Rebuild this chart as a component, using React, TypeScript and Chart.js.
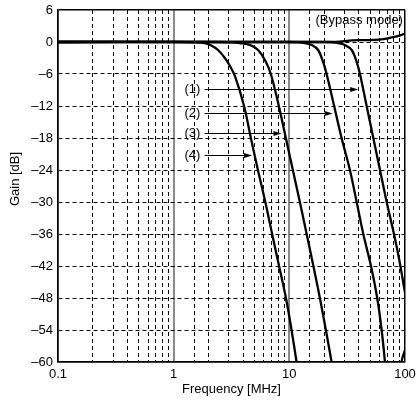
import React, { useEffect, useRef } from 'react';
import { Chart, registerables } from 'chart.js';

Chart.register(...registerables);

// ---- data ----
const yMin = -60;
const yMax = 6;
const yStep = 6;
const xMin = 0.1;
const xMax = 100;

// curve (4) – lowest cutoff
const freq4 = [0.1, 1.0, 1.5, 1.85, 2.1, 2.42, 2.77, 3.05, 3.4, 4.06, 4.65, 5.35, 6.2, 7.1, 8.15, 9.35, 10.45, 11.55];
const gain4 = [0, 0, -0.05, -0.2, -0.6, -1.5, -3.0, -4.4, -6.5, -12, -18, -24, -30, -36, -42, -48, -54, -60];

// curve (3)
const freq3 = [0.1, 2.0, 3.2, 3.73, 4.6, 5.37, 6.2, 6.92, 8.11, 9.33, 10.72, 12.33, 14.12, 16.14, 18.37, 20.7, 23.2];
const gain3 = [0, 0, -0.05, -0.2, -0.6, -1.5, -3.5, -6, -12, -18, -24, -30, -36, -42, -48, -54, -60];

// curve (2)
const freq2 = [0.1, 10, 12, 13.6, 15.8, 17.76, 19.5, 21.0, 24.4, 28.3, 33.4, 38.2, 43.6, 50.8, 57.5, 62.8, 67.1, 75, 88, 93.4, 100];
const gain2 = [0, 0, -0.05, -0.2, -0.6, -1.5, -3.6, -6, -12, -18, -24, -30, -36, -42, -48, -54, -60, -72, -72, -60, -57.7];

// curve (1) – highest cutoff
const freq1 = [0.1, 20, 24, 26.5, 30.5, 34.6, 38.3, 40.8, 46.6, 53.2, 60.8, 69.4, 80.3, 89.3, 100];
const gain1 = [0, 0, -0.05, -0.2, -0.6, -1.5, -3.8, -6, -12, -18, -24, -30, -36, -40.9, -47];

// bypass mode
const freqBypass = [0.1, 25, 35, 45, 60, 75, 90, 100];
const gainBypass = [0, 0, 0.3, 0.35, 0.45, 0.8, 1.2, 1.6];

// annotations
const arrowLabels = ['(1)', '(2)', '(3)', '(4)'];
const arrowGain = [-8.9, -13.3, -17.1, -21.1];
const arrowStartFreq = 1.85;
const arrowEndFreq = [39.4, 23.7, 8.56, 4.76];
const arrowLabelFreq = 1.70;
const bypassLabel = '(Bypass mode)';
const bypassLabelFreq = 96;
const bypassLabelGain = 4.1;
const xTitle = 'Frequency [MHz]';
const yTitle = 'Gain [dB]';

const FONT = '"Liberation Sans", Arial, Helvetica, sans-serif';

const toPts = (xs: number[], ys: number[]) => xs.map((x, i) => ({ x, y: ys[i] }));

const isDecade = (v: number) => {
  const l = Math.log10(v);
  return Math.abs(l - Math.round(l)) < 1e-6;
};

const fmtY = (v: number) => (v < 0 ? '\u2013' + Math.abs(v) : String(v));

const annotationPlugin = {
  id: 'annots',
  afterDatasetsDraw(chart: any) {
    const { ctx, scales, chartArea } = chart;
    const xs = scales.x;
    const ys = scales.y;
    ctx.save();
    ctx.fillStyle = '#000';
    ctx.strokeStyle = '#000';
    ctx.font = `13px ${FONT}`;
    arrowLabels.forEach((lab, i) => {
      const y = Math.round(ys.getPixelForValue(arrowGain[i])) + 0.5;
      const x0 = xs.getPixelForValue(arrowStartFreq);
      const x1 = xs.getPixelForValue(arrowEndFreq[i]);
      const head = 8;
      ctx.lineWidth = 1.2;
      ctx.beginPath();
      ctx.moveTo(x0, y);
      ctx.lineTo(x1 - head + 1, y);
      ctx.stroke();
      ctx.beginPath();
      ctx.moveTo(x1, y);
      ctx.lineTo(x1 - head, y - 2.5);
      ctx.lineTo(x1 - head, y + 2.5);
      ctx.closePath();
      ctx.fill();
      ctx.textAlign = 'right';
      ctx.textBaseline = 'middle';
      ctx.fillText(lab, xs.getPixelForValue(arrowLabelFreq), y);
    });
    ctx.textAlign = 'right';
    ctx.textBaseline = 'middle';
    ctx.fillText(bypassLabel, xs.getPixelForValue(bypassLabelFreq), ys.getPixelForValue(bypassLabelGain));
    ctx.textAlign = 'center';
    ctx.fillText(xTitle, (chartArea.left + chartArea.right) / 2, 389);
    ctx.translate(15, 179);
    ctx.rotate(-Math.PI / 2);
    ctx.fillText(yTitle, 0, 0);
    ctx.restore();
  },
};

export default function App() {
  const ref = useRef<HTMLCanvasElement | null>(null);
  useEffect(() => {
    if (!ref.current) return;
    const lineDs = (data: { x: number; y: number }[]) => ({
      data,
      borderColor: '#000',
      backgroundColor: '#000',
      borderWidth: 2.3,
      pointRadius: 0,
      fill: false,
      tension: 0.35,
    });
    const chart = new Chart(ref.current, {
      type: 'line',
      data: {
        datasets: [
          lineDs(toPts(freqBypass, gainBypass)),
          lineDs(toPts(freq1, gain1)),
          lineDs(toPts(freq2, gain2)),
          lineDs(toPts(freq3, gain3)),
          lineDs(toPts(freq4, gain4)),
        ],
      },
      options: {
        responsive: false,
        animation: false,
        layout: { padding: { top: 10, right: 11, left: 0, bottom: 0 } },
        plugins: { legend: { display: false }, tooltip: { enabled: false } },
        scales: {
          x: {
            type: 'logarithmic',
            min: xMin,
            max: xMax,
            afterFit: (s: any) => {
              s.height = 43;
              s.paddingLeft = 0;
              s.paddingRight = 0;
            },
            ticks: {
              autoSkip: false,
              maxRotation: 0,
              padding: 5,
              color: '#000',
              font: { family: FONT, size: 13 },
              callback: (v: any) => {
                const n = Number(v);
                return isDecade(n) ? String(Number(n.toPrecision(3))) : '';
              },
            },
            grid: {
              drawTicks: false,
              color: (c: any) => {
                const v = c.tick ? c.tick.value : 0;
                if (Math.abs(v - xMin) < 1e-9 || Math.abs(v - xMax) < 1e-6) return '#000';
                return isDecade(v) ? '#8a8a8a' : '#000';
              },
              lineWidth: (c: any) => {
                const v = c.tick ? c.tick.value : 0;
                if (Math.abs(v - xMin) < 1e-9 || Math.abs(v - xMax) < 1e-6) return 1.5;
                return isDecade(v) ? 2 : 1;
              },
            },
            border: {
              display: true,
              color: '#000',
              width: 1.5,
              dash: (c: any) => {
                const v = c.tick ? c.tick.value : 1;
                return isDecade(v) ? [] : [4, 3];
              },
            },
          },
          y: {
            type: 'linear',
            min: yMin,
            max: yMax,
            afterFit: (s: any) => {
              s.width = 58;
              s.paddingTop = 0;
              s.paddingBottom = 0;
            },
            ticks: {
              stepSize: yStep,
              padding: 5,
              color: '#000',
              font: { family: FONT, size: 13 },
              callback: (v: any) => fmtY(Number(v)),
            },
            grid: {
              drawTicks: false,
              color: '#000',
              lineWidth: (c: any) => {
                const v = c.tick ? c.tick.value : 0;
                return v === yMin || v === yMax ? 1.5 : 1;
              },
            },
            border: {
              display: true,
              color: '#000',
              width: 1.5,
              dash: (c: any) => {
                const v = c.tick ? c.tick.value : yMin;
                return v === yMin || v === yMax ? [] : [4, 3];
              },
            },
          },
        },
      },
      plugins: [annotationPlugin],
    });
    return () => chart.destroy();
  }, []);
  return (
    <div style={{ position: 'fixed', left: 0, top: 0, width: 416, height: 405, background: '#fff' }}>
      <canvas ref={ref} width={416} height={405} style={{ display: 'block' }} />
    </div>
  );
}
